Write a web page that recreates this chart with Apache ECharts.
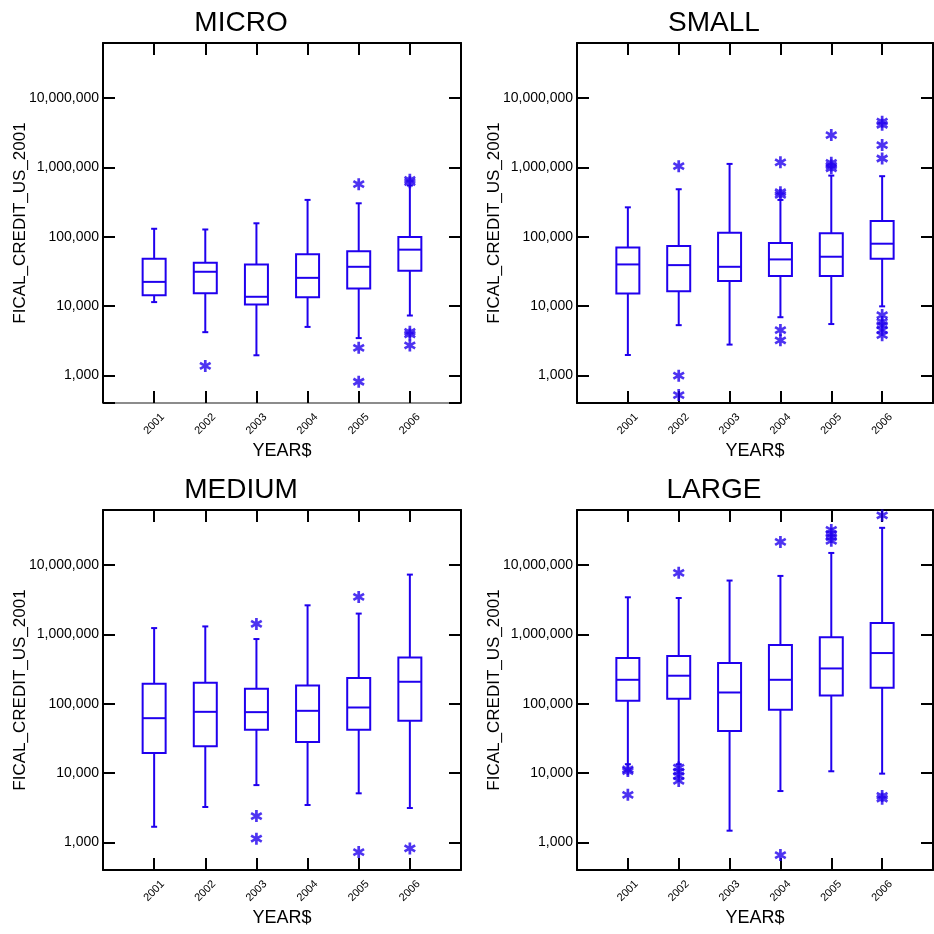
<!DOCTYPE html>
<html lang="en">
<head>
<meta charset="UTF-8">
<title>FICAL_CREDIT_US_2001 by YEAR$</title>
<style>
html, body { margin: 0; padding: 0; width: 100%; height: 100%; background: #fff; }
#main { width: 934px; height: 934px; }
</style>
</head>
<body>
<div id="main"></div>
<script src="https://cdn.jsdelivr.net/npm/echarts@6/dist/echarts.min.js"></script>
<script>
var years = ['2001', '2002', '2003', '2004', '2005', '2006'];
var yTicks = [1000, 10000, 100000, 1000000, 10000000];
var panelTitles = ['MICRO', 'SMALL', 'MEDIUM', 'LARGE'];

// per year: [lower whisker, q1, median, q3, upper whisker]
var microBoxes = [
  [11400, 14300, 22300, 48100, 130000],
  [4200, 15300, 31200, 42100, 127000],
  [1950, 10500, 13600, 39800, 156000],
  [5000, 13400, 25500, 56000, 339000],
  [3450, 17900, 36800, 61400, 303000],
  [7300, 32200, 65000, 99000, 546000]
];
var microOutliers = [
  ['2002', 1370],
  ['2005', 571000], ['2005', 2500], ['2005', 810],
  ['2006', 660000], ['2006', 610000], ['2006', 4250], ['2006', 3900], ['2006', 2700]
];

var smallBoxes = [
  [1970, 15200, 39800, 70100, 265000],
  [5300, 16400, 38900, 73300, 483000],
  [2780, 22900, 36800, 114000, 1120000],
  [6900, 27000, 47000, 80900, 339000],
  [5500, 27000, 51400, 112000, 760000],
  [9900, 48100, 79200, 168000, 745000]
];
var smallOutliers = [
  ['2002', 1040000], ['2002', 990], ['2002', 520],
  ['2004', 1180000], ['2004', 437000], ['2004', 400000], ['2004', 4500], ['2004', 3200],
  ['2005', 2920000], ['2005', 1160000], ['2005', 1060000], ['2005', 970000],
  ['2006', 4550000], ['2006', 4110000], ['2006', 2090000], ['2006', 1340000],
  ['2006', 7400], ['2006', 5900], ['2006', 5300], ['2006', 4500], ['2006', 3800]
];

var mediumBoxes = [
  [1680, 19500, 61800, 194000, 1230000],
  [3240, 24300, 76300, 200000, 1300000],
  [6700, 42000, 75500, 164000, 855000],
  [3460, 28100, 78900, 183000, 2620000],
  [5100, 42000, 88100, 234000, 1990000],
  [3130, 56600, 207000, 465000, 7260000]
];
var mediumOutliers = [
  ['2003', 1410000], ['2003', 2400], ['2003', 1130],
  ['2005', 3460000], ['2005', 725],
  ['2006', 820]
];

var largeBoxes = [
  [13400, 110000, 221000, 455000, 3420000],
  [13400, 118000, 253000, 486000, 3340000],
  [1475, 40500, 145000, 385000, 5960000],
  [5500, 81500, 221000, 700000, 6950000],
  [10600, 131000, 322000, 904000, 14900000],
  [9800, 169000, 537000, 1456000, 34300000]
];
var largeOutliers = [
  ['2001', 11300], ['2001', 10700], ['2001', 4850],
  ['2002', 7690000], ['2002', 12000], ['2002', 10500], ['2002', 9100], ['2002', 7700],
  ['2004', 21500000], ['2004', 656],
  ['2005', 32000000], ['2005', 28100000], ['2005', 25200000], ['2005', 22300000],
  ['2006', 51800000], ['2006', 4670], ['2006', 4270]
];

var panelBoxes = [microBoxes, smallBoxes, mediumBoxes, largeBoxes];
var panelOutliers = [microOutliers, smallOutliers, mediumOutliers, largeOutliers];

var BLUE = '#2000EE';
var FONT = 'Liberation Sans, Arial, sans-serif';
var xCats = [''].concat(years, [' ']);
var yMin = 400, yMax = 62000000;

var grids = [
  { left: 103, top: 43, width: 358, height: 360 },
  { left: 577, top: 43, width: 356, height: 360 },
  { left: 103, top: 510, width: 358, height: 360 },
  { left: 577, top: 510, width: 356, height: 360 }
];
var titleX = [236, 709, 236, 709];
var titleY = [4, 4, 471, 471];

var ASTERISK = 'path://M-0.22,-1L0.22,-1L0.22,1L-0.22,1Z' +
  'M0.756,-0.69L0.976,-0.31L-0.756,0.69L-0.976,0.31Z' +
  'M-0.976,-0.31L-0.756,-0.69L0.976,0.31L0.756,0.69Z';

function fmtTick(v) {
  for (var i = 0; i < yTicks.length; i++) {
    if (Math.abs(v - yTicks[i]) < yTicks[i] * 1e-6) {
      return String(yTicks[i]).replace(/\B(?=(\d{3})+(?!\d))/g, ',');
    }
  }
  return '';
}

function renderBox(params, api) {
  var x = api.value(0);
  var lo = api.coord([x, api.value(1)]);
  var q1 = api.coord([x, api.value(2)]);
  var med = api.coord([x, api.value(3)]);
  var q3 = api.coord([x, api.value(4)]);
  var hi = api.coord([x, api.value(5)]);
  var cx = med[0], hw = 11.5, cap = 3;
  var st = { stroke: BLUE, lineWidth: 2, fill: 'none' };
  return {
    type: 'group',
    children: [
      { type: 'rect', shape: { x: cx - hw, y: q3[1], width: hw * 2, height: q1[1] - q3[1] }, style: st },
      { type: 'line', shape: { x1: cx - hw, y1: med[1], x2: cx + hw, y2: med[1] }, style: st },
      { type: 'line', shape: { x1: cx, y1: q3[1], x2: cx, y2: hi[1] }, style: st },
      { type: 'line', shape: { x1: cx, y1: q1[1], x2: cx, y2: lo[1] }, style: st },
      { type: 'line', shape: { x1: cx - cap, y1: hi[1], x2: cx + cap, y2: hi[1] }, style: st },
      { type: 'line', shape: { x1: cx - cap, y1: lo[1], x2: cx + cap, y2: lo[1] }, style: st }
    ]
  };
}

var option = {
  backgroundColor: '#fff',
  animation: false,
  title: [], grid: [], xAxis: [], yAxis: [], series: []
};

var axisLine = { show: true, lineStyle: { color: '#000', width: 2 } };
var axisTick = { show: true, inside: true, length: 12, lineStyle: { color: '#000', width: 2 } };

for (var p = 0; p < 4; p++) {
  option.title.push({
    text: panelTitles[p], left: titleX[p], top: titleY[p], textAlign: 'center',
    textStyle: { fontFamily: FONT, fontSize: 28, fontWeight: 'normal', color: '#000' }
  });
  var g = grids[p];
  option.grid.push({
    left: g.left, top: g.top, width: g.width, height: g.height,
    containLabel: false, outerBoundsMode: 'none'
  });

  // bottom x axis (labels)
  option.xAxis.push({
    type: 'category', gridIndex: p, position: 'bottom', data: xCats, boundaryGap: false,
    axisLine: p === 0 ? { show: true, lineStyle: { color: '#8c8c8c', width: 2 } } : axisLine,
    axisTick: axisTick, splitLine: { show: false },
    axisLabel: {
      rotate: 45, interval: 0, margin: 21, align: 'center', verticalAlign: 'middle',
      fontFamily: FONT, fontSize: 11, color: '#000'
    },
    name: 'YEAR$', nameLocation: 'middle', nameGap: 39, nameMoveOverlap: false,
    nameTextStyle: { fontFamily: FONT, fontSize: 18, color: '#000' }
  });
  // top x axis (ticks only)
  option.xAxis.push({
    type: 'category', gridIndex: p, position: 'top', data: xCats, boundaryGap: false,
    axisLine: axisLine, axisTick: axisTick, axisLabel: { show: false }, splitLine: { show: false }
  });
  // left y axis (labels)
  option.yAxis.push({
    type: 'log', gridIndex: p, position: 'left', min: yMin, max: yMax, logBase: 10,
    axisLine: axisLine, axisTick: axisTick, splitLine: { show: false },
    axisLabel: { formatter: fmtTick, margin: 4, fontFamily: FONT, fontSize: 14, color: '#000' },
    name: 'FICAL_CREDIT_US_2001', nameLocation: 'middle', nameGap: 74, nameMoveOverlap: false,
    nameTextStyle: { fontFamily: FONT, fontSize: 17, color: '#000' }
  });
  // right y axis (ticks only)
  option.yAxis.push({
    type: 'log', gridIndex: p, position: 'right', min: yMin, max: yMax, logBase: 10,
    axisLine: axisLine, axisTick: axisTick, axisLabel: { show: false }, splitLine: { show: false }
  });

  var boxData = panelBoxes[p].map(function (b, i) {
    return [xCats.indexOf(years[i])].concat(b);
  });
  option.series.push({
    type: 'custom', xAxisIndex: p * 2, yAxisIndex: p * 2,
    renderItem: renderBox, data: boxData,
    encode: { x: 0, y: [1, 2, 3, 4, 5] }
  });
  option.series.push({
    type: 'scatter', xAxisIndex: p * 2, yAxisIndex: p * 2,
    symbol: ASTERISK, symbolSize: 12,
    itemStyle: { color: BLUE },
    data: panelOutliers[p].map(function (o) { return [xCats.indexOf(o[0]), o[1]]; })
  });
}

var chart = echarts.init(document.getElementById('main'));
chart.setOption(option);
window.addEventListener('resize', function () { chart.resize(); });
</script>
</body>
</html>
